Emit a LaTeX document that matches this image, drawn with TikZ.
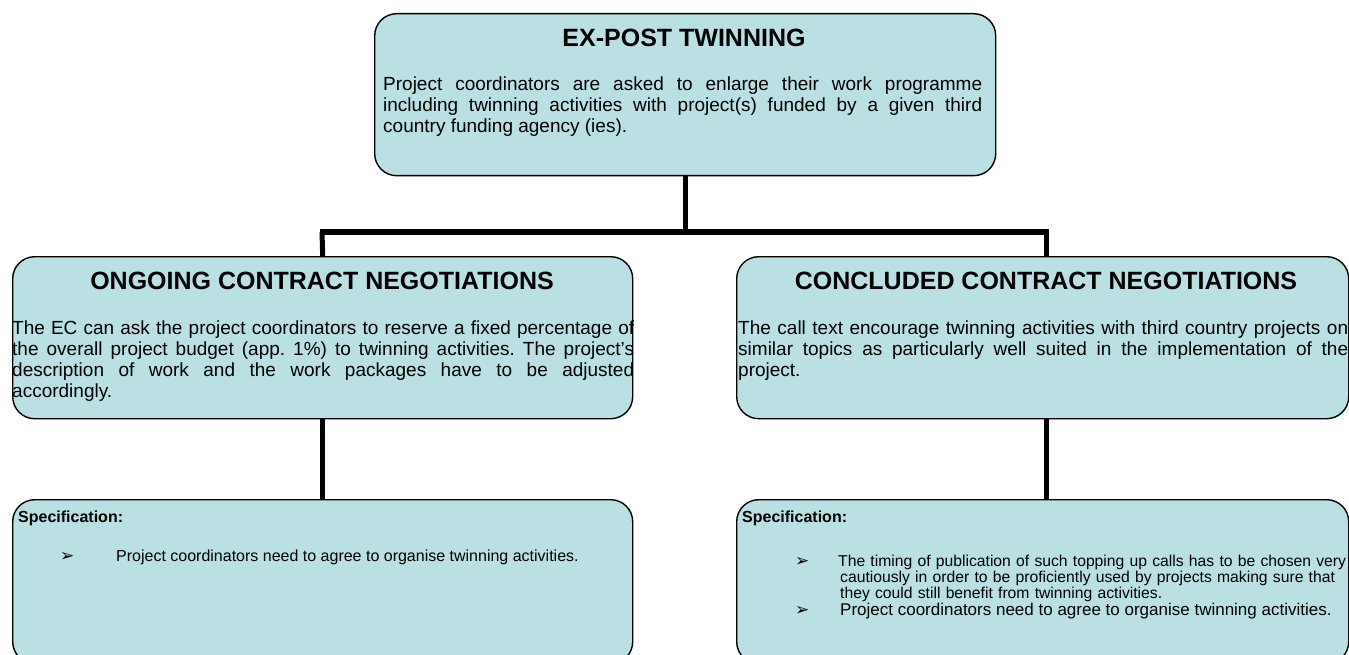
\documentclass[tikz,border=0pt]{standalone}
\usepackage{fontspec}
\setmainfont{Liberation Sans}
\newfontfamily\dejavu{DejaVu Sans}
\definecolor{boxfill}{RGB}{186,224,227}
\frenchspacing
\begin{document}
\begin{tikzpicture}[x=1pt,y=-1pt,
  box/.style={draw=black,line width=1.4pt,fill=boxfill,rounded corners=22pt,rectangle,inner sep=0pt,anchor=north west},
  conn/.style={line width=5pt,draw=black},
  ttl/.style={font=\fontsize{25}{30}\selectfont\bfseries,inner sep=0pt,anchor=base},
  bodytxt/.style={font=\fontsize{19}{21}\selectfont,inner sep=0pt,anchor=base west,align=justify,
    execute at begin node={\tolerance=10000 \hyphenpenalty=10000 }},
  spectxt/.style={font=\fontsize{16}{16}\selectfont\bfseries,inner sep=0pt,anchor=base west},
  bitem/.style={font=\fontsize{16}{16}\selectfont,inner sep=0pt,anchor=base west,align=left},
  arw/.style={font=\dejavu\fontsize{17}{17}\selectfont,inner sep=0pt,anchor=base west}]
\useasboundingbox (0,0) rectangle (1349,655);
\clip (0,0) rectangle (1349,655);

% boxes
\node[box,minimum width=621pt,minimum height=162pt] (top) at (374,13) {};
\node[box,minimum width=620pt,minimum height=162pt] (ml) at (12,256) {};
\node[box,minimum width=612pt,minimum height=162pt] (mr) at (736,256) {};
\node[box,minimum width=620pt,minimum height=164pt] (bl) at (12,499) {};
\node[box,minimum width=612pt,minimum height=164pt] (br) at (736,499) {};

% connectors
\coordinate (hl) at (322,232);
\coordinate (hr) at (1046,232);
\draw[conn] (top.south) -- (top.south |- hl);
\draw[conn] ([xshift=-2.5pt]hl) -- ([xshift=2.5pt]hr);
\draw[conn] (hl) -- (ml.north);
\draw[conn] (hr) -- (hr |- mr.north);
\draw[conn] (ml.south) -- (bl.north);
\draw[conn] (hr |- mr.south) -- (hr |- br.north);

% top box text
\node[ttl] (t1) at (684,47) {EX-POST TWINNING};
\node[bodytxt,text width=599pt] (t2) at (383,91) {Project coordinators are asked to enlarge their work programme\linebreak including twinning activities with project(s) funded by a given third\linebreak country funding agency (ies).};

% middle left
\node[ttl] (l1) at (322,289) {ONGOING CONTRACT NEGOTIATIONS};
\node[bodytxt,text width=622pt] (l2) at (12,334) {The EC can ask the project coordinators to reserve a fixed percentage of\linebreak the overall project budget (app. 1\%) to twinning activities. The project's\linebreak description of work and the work packages have to be adjusted\linebreak accordingly.};

% middle right
\node[ttl] (r1) at (1046,289) {CONCLUDED CONTRACT NEGOTIATIONS};
\node[bodytxt,text width=610pt] (r2) at (738,334) {The call text encourage twinning activities with third country projects on\linebreak similar topics as particularly well suited in the implementation of the\linebreak project.};

% bottom left
\node[spectxt] (bs1) at (18,522) {Specification:};
\node[arw] (ba1) at (60,561) {➢};
\node[bitem] (bt1) at (116,561) {Project coordinators need to agree to organise twinning activities.};

% bottom right
\node[spectxt] (cs1) at (742,522) {Specification:};
\node[arw] (ca1) at (795,566) {➢};
\node[bitem,text width=530pt,font=\fontsize{15.7}{16}\selectfont] (ct1) at (838,566) {The timing of publication of such topping up calls has to be chosen very\\\hspace*{2pt}cautiously in order to be proficiently used by projects making sure that\\\hspace*{2pt}they could still benefit from twinning activities.};
\node[arw] (ca2) at (795,615) {➢};
\node[bitem,font=\fontsize{17}{17}\selectfont] (ct2) at (840,615) {Project coordinators need to agree to organise twinning activities.};
\end{tikzpicture}
\end{document}
